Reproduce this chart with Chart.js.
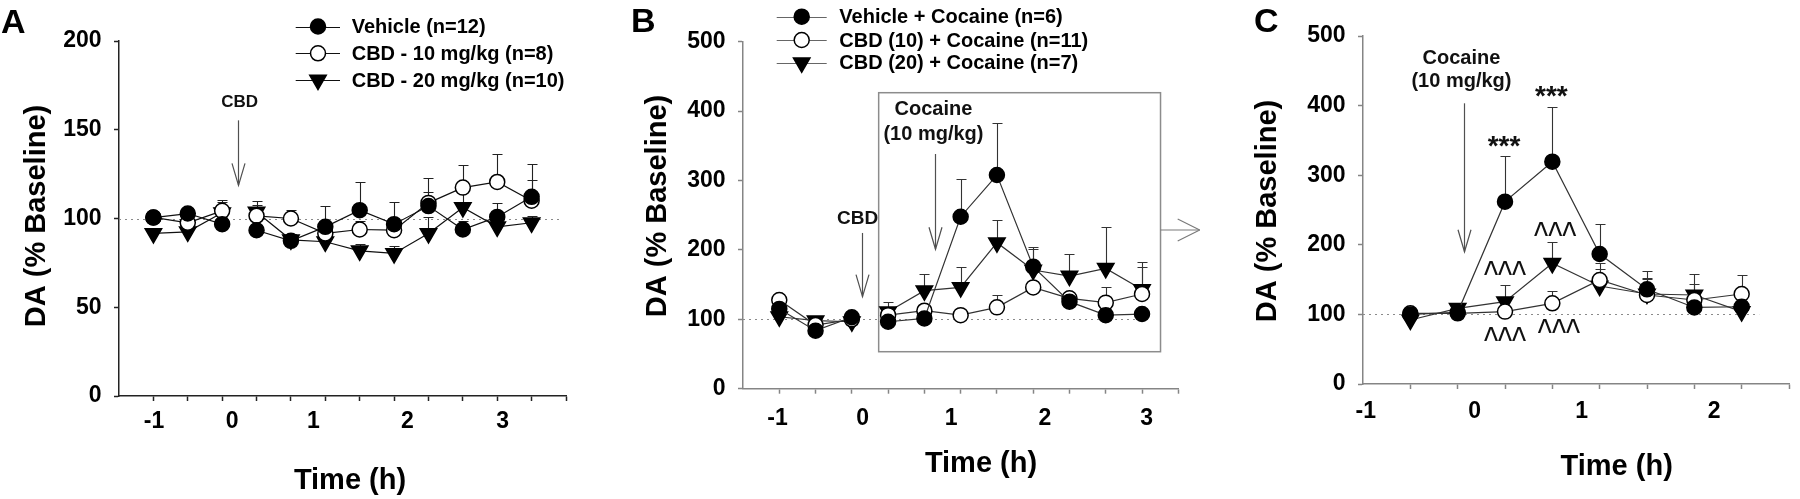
<!DOCTYPE html>
<html>
<head>
<meta charset="utf-8">
<script src="https://cdn.jsdelivr.net/npm/chart.js@4.4.1/dist/chart.umd.min.js"></script>
<style>
html,body{margin:0;padding:0;background:#fff;}
#wrap{position:relative;width:1800px;height:499px;overflow:hidden;background:#fff;}
.panel{position:absolute;top:0;width:600px;height:499px;}
</style>
</head>
<body>
<div id="wrap">
  <div class="panel" style="left:0px"><canvas id="cA"></canvas></div>
  <div class="panel" style="left:600px"><canvas id="cB"></canvas></div>
  <div class="panel" style="left:1200px"><canvas id="cC"></canvas></div>
</div>
<script>
// ---------------- DATA ----------------
// Panel A
const aSample = [1,2,3,4,5,6,7,8,9,10,11,12];
const aNames = ['Vehicle (n=12)', 'CBD - 10 mg/kg (n=8)', 'CBD - 20 mg/kg (n=10)'];
const aVehicle    = [100.5, 102.8, 96.8, 93.4, 87.4, 95.3, 104.7, 96.8, 107, 93.8, 100.9, 112.2];
const aVehicleSem = [3, 3, 4, 3, 4, 12, 16, 12.6, 8, 5, 8, 18.4];
const aCbd10      = [100.6, 97.6, 104.3, 101.5, 100, 91.6, 93.8, 93.4, 108.8, 117.4, 120.6, 110];
const aCbd10Sem   = [3, 3, 6, 6, 5, 3, 5, 5, 14, 13, 15.6, 11.6];
const aCbd20      = [91.6, 92.5, 103.2, 103.7, 88, 86.9, 81.8, 80.3, 91.6, 106.2, 95.3, 97.6];
const aCbd20Sem   = [3, 3, 6, 6, 3, 3, 4, 4, 9.4, 12, 5, 4];
const aTickLabels = ['-1', '0', '1', '2', '3'];
const aTickLabelPos = [1.02, 3.29, 5.65, 8.39, 11.16];

// Panel B
const bSample = [1,2,3,4,5,6,7,8,9,10,11];
const bNames = ['Vehicle + Cocaine (n=6)', 'CBD (10) + Cocaine (n=11)', 'CBD (20) + Cocaine (n=7)'];
const bVehicle    = [115, 83.6, 103, 96.5, 101.3, 247.8, 307.9, 175.8, 125.4, 106, 107.6];
const bVehicleSem = [5, 4, 4, 4, 5, 54, 75, 29, 8, 5, 5];
const bCbd10      = [127.8, 91.7, 100, 106, 112.4, 106, 117.2, 146, 130.2, 124, 136.4];
const bCbd10Sem   = [5, 5, 4, 5, 6, 5, 18, 8, 6, 23, 39];
const bCbd20      = [103.7, 98, 96.5, 111, 141.2, 146, 210.4, 171, 162.3, 173.4, 143];
const bCbd20Sem   = [5, 4, 4, 14, 24, 29, 33, 31, 32, 60, 39];
const bTickLabels = ['-1', '0', '1', '2', '3'];
const bTickLabelPos = [0.95, 3.30, 5.74, 8.32, 11.13];

// Panel C
const cSample = [1,2,3,4,5,6,7,8];
const cVehicle    = [100, 103, 262, 319.4, 186.8, 136, 110, 111];
const cVehicleSem = [3, 4, 66, 79, 43, 27, 5, 5];
const cCbd10      = [101.5, 101.5, 104, 115.9, 149.4, 127.9, 120.7, 129.3];
const cCbd10Sem   = [3, 3, 4, 18, 24, 24, 23, 27];
const cCbd20      = [92, 108.7, 118.3, 173.4, 140.8, 129.3, 127.9, 104];
const cCbd20Sem   = [3, 3, 24, 30, 25, 22, 30, 5];
const cTickLabels = ['-1', '0', '1', '2'];
const cTickLabelPos = [0.06, 2.36, 4.62, 7.42];

// ---------------- RENDERING ----------------
const FONT = "'Liberation Sans', Arial, Helvetica, sans-serif";

function drawMarker(ctx, kind, x, y, r) {
  ctx.save();
  ctx.lineWidth = 1.5;
  ctx.strokeStyle = '#000';
  ctx.fillStyle = kind === 'open' ? '#fff' : '#000';
  ctx.beginPath();
  if (kind === 'tri') {
    const h = r * Math.cos(Math.PI / 6);
    ctx.moveTo(x - h, y - r / 2);
    ctx.lineTo(x + h, y - r / 2);
    ctx.lineTo(x, y + r);
    ctx.closePath();
  } else {
    ctx.arc(x, y, r, 0, Math.PI * 2);
  }
  ctx.fill();
  ctx.stroke();
  ctx.restore();
}

function arrowDown(ctx, x, y1, y2, color) {
  ctx.save();
  ctx.strokeStyle = color; ctx.lineWidth = 1.2;
  ctx.beginPath(); ctx.moveTo(x, y1); ctx.lineTo(x, y2); ctx.stroke();
  ctx.beginPath(); ctx.moveTo(x - 6.5, y2 - 22); ctx.lineTo(x, y2); ctx.lineTo(x + 6.5, y2 - 22); ctx.stroke();
  ctx.restore();
}

function arrowRight(ctx, x1, x2, y, color) {
  ctx.save();
  ctx.strokeStyle = color; ctx.lineWidth = 1.2;
  ctx.beginPath(); ctx.moveTo(x1, y); ctx.lineTo(x2, y); ctx.stroke();
  ctx.beginPath(); ctx.moveTo(x2 - 22, y - 11); ctx.lineTo(x2, y); ctx.lineTo(x2 - 22, y + 11); ctx.stroke();
  ctx.restore();
}

function makeDecor(cfg) {
  return {
    id: 'decor',
    beforeDatasetsDraw(chart) {
      const {ctx} = chart; const x = chart.scales.x, y = chart.scales.y;
      ctx.save();
      // dotted baseline at 100 %
      ctx.strokeStyle = '#8a8a8a'; ctx.lineWidth = 1; ctx.setLineDash([2, 4]);
      ctx.beginPath();
      ctx.moveTo(x.getPixelForValue(cfg.baseFrom), Math.round(y.getPixelForValue(100)) + 0.5);
      ctx.lineTo(x.getPixelForValue(cfg.baseTo), Math.round(y.getPixelForValue(100)) + 0.5);
      ctx.stroke();
      ctx.setLineDash([]);
      // highlight box (panel B)
      if (cfg.box) {
        const b = cfg.box;
        const x1 = x.getPixelForValue(b.x1), x2 = x.getPixelForValue(b.x2);
        const y1 = y.getPixelForValue(b.y2), y2 = y.getPixelForValue(b.y1);
        ctx.strokeStyle = '#8c8c8c'; ctx.lineWidth = 1.5;
        ctx.strokeRect(x1, y1, x2 - x1, y2 - y1);
        arrowRight(ctx, x2, x.getPixelForValue(b.arrowTo), y.getPixelForValue(b.arrowY), '#7a7a7a');
      }
      // upper error bars (mean + SEM)
      ctx.strokeStyle = cfg.errColor; ctx.lineWidth = 1.1;
      cfg.series.forEach(s => {
        cfg.xIndex.forEach((xi, i) => {
          const px = Math.round(x.getPixelForValue(xi)) + 0.5;
          const py1 = y.getPixelForValue(s.values[i]);
          const py2 = Math.round(y.getPixelForValue(s.values[i] + s.sem[i])) + 0.5;
          ctx.beginPath();
          ctx.moveTo(px, py1); ctx.lineTo(px, py2);
          ctx.moveTo(px - 5, py2); ctx.lineTo(px + 5, py2);
          ctx.stroke();
        });
      });
      ctx.restore();
    },
    afterDatasetsDraw(chart) {
      const {ctx} = chart; const x = chart.scales.x, y = chart.scales.y;
      ctx.save();
      ctx.fillStyle = '#111';
      ctx.textAlign = 'center';
      (cfg.texts || []).forEach(t => {
        ctx.font = `bold ${t.size}px ${FONT}`;
        ctx.textBaseline = 'middle';
        ctx.fillText(t.t, x.getPixelForValue(t.x), y.getPixelForValue(t.y));
      });
      (cfg.arrows || []).forEach(a => {
        arrowDown(ctx, Math.round(x.getPixelForValue(a.x)) + 0.5, y.getPixelForValue(a.y1), y.getPixelForValue(a.y2), '#505050');
      });
      (cfg.marks || []).forEach(m => {
        ctx.save();
        ctx.font = `${m.weight} ${m.size}px ${FONT}`;
        ctx.textBaseline = 'middle';
        ctx.fillStyle = '#111';
        const cx = x.getPixelForValue(m.x), cy = y.getPixelForValue(m.y);
        ctx.translate(cx, cy);
        ctx.scale(1, m.stretch);
        ctx.fillText(m.t, 0, m.size * m.shift);
        ctx.restore();
      });
      ctx.restore();
    },
    afterDraw(chart) {
      const {ctx} = chart;
      ctx.save();
      ctx.fillStyle = '#000';
      // panel letter
      ctx.font = `bold 34px ${FONT}`;
      ctx.textAlign = 'left'; ctx.textBaseline = 'alphabetic';
      ctx.fillText(cfg.letter, cfg.letterX, cfg.letterY);
      // axis titles
      ctx.font = `bold 29px ${FONT}`;
      ctx.textAlign = 'center'; ctx.textBaseline = 'middle';
      ctx.fillText('Time (h)', cfg.xTitle[0], cfg.xTitle[1]);
      ctx.save();
      ctx.translate(cfg.yTitle[0], cfg.yTitle[1]);
      ctx.rotate(-Math.PI / 2);
      ctx.fillText('DA (% Baseline)', 0, 0);
      ctx.restore();
      // legend
      if (cfg.legend) {
        const L = cfg.legend;
        cfg.series.forEach((s, k) => {
          const yy = L.rows[k];
          ctx.strokeStyle = L.lineColor; ctx.lineWidth = 1.2;
          ctx.beginPath(); ctx.moveTo(L.x1, Math.round(yy) + 0.5); ctx.lineTo(L.x2, Math.round(yy) + 0.5); ctx.stroke();
          drawMarker(ctx, s.kind, L.mx, yy, s.kind === 'tri' ? 9.5 : 7.5);
          ctx.fillStyle = '#000';
          ctx.font = `bold ${L.size}px ${FONT}`;
          ctx.textAlign = 'left'; ctx.textBaseline = 'middle';
          ctx.fillText(s.name, L.tx, yy + 1);
        });
      }
      ctx.restore();
    }
  };
}

function makePanel(id, cfg) {
  const datasets = cfg.series.map(s => ({
    label: s.name,
    data: cfg.xIndex.map((xv, i) => ({x: xv, y: s.values[i]})),
    borderColor: cfg.lineColor,
    borderWidth: 1.2,
    tension: 0,
    fill: false,
    pointStyle: s.kind === 'tri' ? 'triangle' : 'circle',
    rotation: s.kind === 'tri' ? 180 : 0,
    pointRadius: s.kind === 'tri' ? 9.5 : 7.5,
    pointBackgroundColor: s.kind === 'open' ? '#fff' : '#000',
    pointBorderColor: '#000',
    pointBorderWidth: 1.5,
    segment: {
      borderColor: c => (c.p0DataIndex === cfg.gapAfter ? 'rgba(0,0,0,0)' : cfg.lineColor)
    }
  }));
  return new Chart(document.getElementById(id), {
    type: 'line',
    data: {datasets},
    options: {
      responsive: true, maintainAspectRatio: false, animation: false, devicePixelRatio: 1,
      events: [],
      layout: {padding: {left: 0, right: cfg.padRight, top: cfg.padTop, bottom: 0}},
      plugins: {legend: {display: false}, tooltip: {enabled: false}},
      scales: {
        x: {
          type: 'linear', min: 0, max: cfg.xMax,
          border: {display: true, color: cfg.axisColor, width: cfg.axisWidth},
          grid: {
            drawOnChartArea: false, drawTicks: true, tickLength: 5, tickWidth: cfg.axisWidth,
            tickColor: c => (c.tick && c.tick.mark) ? cfg.axisColor : 'rgba(0,0,0,0)'
          },
          afterBuildTicks: sc => {
            const t = [];
            for (let i = 1; i <= cfg.xMax; i++) t.push({value: i, mark: true, lbl: ''});
            cfg.tickLabels.forEach((l, k) => t.push({value: cfg.tickLabelPos[k], mark: false, lbl: l}));
            t.sort((p, q) => p.value - q.value);
            sc.ticks = t;
          },
          ticks: {
            autoSkip: false, maxRotation: 0, minRotation: 0, color: '#000',
            font: {family: FONT, size: 23, weight: 'bold'}, padding: cfg.xTickPad,
            callback: (v, i, ticks) => ticks[i].lbl
          },
          afterFit: sc => { sc.height = cfg.bottomH; }
        },
        y: {
          min: 0, max: cfg.yMax,
          border: {display: true, color: cfg.axisColor, width: cfg.axisWidth},
          grid: {drawOnChartArea: false, tickLength: 5, tickWidth: cfg.axisWidth, tickColor: cfg.axisColor},
          ticks: {stepSize: cfg.yStep, color: '#000', font: {family: FONT, size: 23, weight: 'bold'}, padding: 12.5},
          afterFit: sc => { sc.width = cfg.leftW; }
        }
      }
    },
    plugins: [makeDecor(cfg)]
  });
}

// Panel A
makePanel('cA', {
  xIndex: aSample, xMax: 13, yMax: 200, yStep: 50,
  tickLabels: aTickLabels, tickLabelPos: aTickLabelPos,
  series: [
    {name: aNames[0], values: aVehicle, sem: aVehicleSem, kind: 'filled'},
    {name: aNames[1], values: aCbd10, sem: aCbd10Sem, kind: 'open'},
    {name: aNames[2], values: aCbd20, sem: aCbd20Sem, kind: 'tri'}
  ],
  gapAfter: 2,
  leftW: 119, padRight: 34, padTop: 41, bottomH: 103, xTickPad: 7,
  axisColor: '#222', axisWidth: 1.5, lineColor: '#111', errColor: '#222',
  baseFrom: 0, baseTo: 12.9,
  letter: 'A', letterX: 1, letterY: 33,
  xTitle: [350, 481], yTitle: [37, 216],
  legend: {x1: 295.7, x2: 340, mx: 318, tx: 351.7, rows: [26.5, 53.3, 80], size: 20, lineColor: '#111'},
  texts: [{t: 'CBD', x: 3.51, y: 165.6, size: 17}],
  arrows: [{x: 3.475, y1: 155.3, y2: 118.7}]
});

// Panel B
makePanel('cB', {
  xIndex: bSample, xMax: 12, yMax: 500, yStep: 100,
  tickLabels: bTickLabels, tickLabelPos: bTickLabelPos,
  series: [
    {name: bNames[0], values: bVehicle, sem: bVehicleSem, kind: 'filled'},
    {name: bNames[1], values: bCbd10, sem: bCbd10Sem, kind: 'open'},
    {name: bNames[2], values: bCbd20, sem: bCbd20Sem, kind: 'tri'}
  ],
  gapAfter: 2,
  leftW: 143, padRight: 21.7, padTop: 41.7, bottomH: 110.3, xTickPad: 11,
  axisColor: '#858585', axisWidth: 1.5, lineColor: '#333', errColor: '#333',
  baseFrom: 0, baseTo: 11.1,
  letter: 'B', letterX: 31, letterY: 32,
  xTitle: [381, 464], yTitle: [58.3, 206],
  legend: {x1: 176.7, x2: 226.7, mx: 201.7, tx: 239.3, rows: [16.7, 40, 62.7], size: 20, lineColor: '#666'},
  box: {x1: 3.74, x2: 11.51, y1: 53.3, y2: 426.5, arrowTo: 12.59, arrowY: 228.7},
  texts: [
    {t: 'CBD', x: 3.16, y: 245.5, size: 19},
    {t: 'Cocaine', x: 5.25, y: 402.6, size: 20},
    {t: '(10 mg/kg)', x: 5.25, y: 365.6, size: 20}
  ],
  arrows: [{x: 3.27, y1: 224.4, y2: 132.6}, {x: 5.29, y1: 338.2, y2: 200.9}]
});

// Panel C
makePanel('cC', {
  xIndex: cSample, xMax: 9, yMax: 500, yStep: 100,
  tickLabels: cTickLabels, tickLabelPos: cTickLabelPos,
  series: [
    {name: 'Vehicle', values: cVehicle, sem: cVehicleSem, kind: 'filled'},
    {name: 'CBD 10', values: cCbd10, sem: cCbd10Sem, kind: 'open'},
    {name: 'CBD 20', values: cCbd20, sem: cCbd20Sem, kind: 'tri'}
  ],
  gapAfter: -1,
  leftW: 163, padRight: 0, padTop: 36, bottomH: 115, xTickPad: 9,
  axisColor: '#858585', axisWidth: 1.5, lineColor: '#333', errColor: '#333',
  baseFrom: 0, baseTo: 8.37,
  letter: 'C', letterX: 54, letterY: 32,
  xTitle: [416.7, 467], yTitle: [68.3, 211],
  texts: [
    {t: 'Cocaine', x: 2.08, y: 468, size: 20},
    {t: '(10 mg/kg)', x: 2.08, y: 434.3, size: 20}
  ],
  arrows: [{x: 2.13, y1: 403.3, y2: 190}],
  marks: [
    {t: '***', x: 2.98, y: 349, size: 28, weight: 'bold', shift: 0.22, stretch: 1},
    {t: '***', x: 3.98, y: 421.4, size: 28, weight: 'bold', shift: 0.22, stretch: 1},
    {t: '^^^', x: 4.06, y: 218.8, size: 30, weight: 'normal', shift: 0.18, stretch: 1.3},
    {t: '^^^', x: 3.0, y: 163.8, size: 30, weight: 'normal', shift: 0.18, stretch: 1.3},
    {t: '^^^', x: 3.0, y: 68, size: 30, weight: 'normal', shift: 0.18, stretch: 1.3},
    {t: '^^^', x: 4.14, y: 80, size: 30, weight: 'normal', shift: 0.18, stretch: 1.3}
  ]
});
</script>
</body>
</html>
